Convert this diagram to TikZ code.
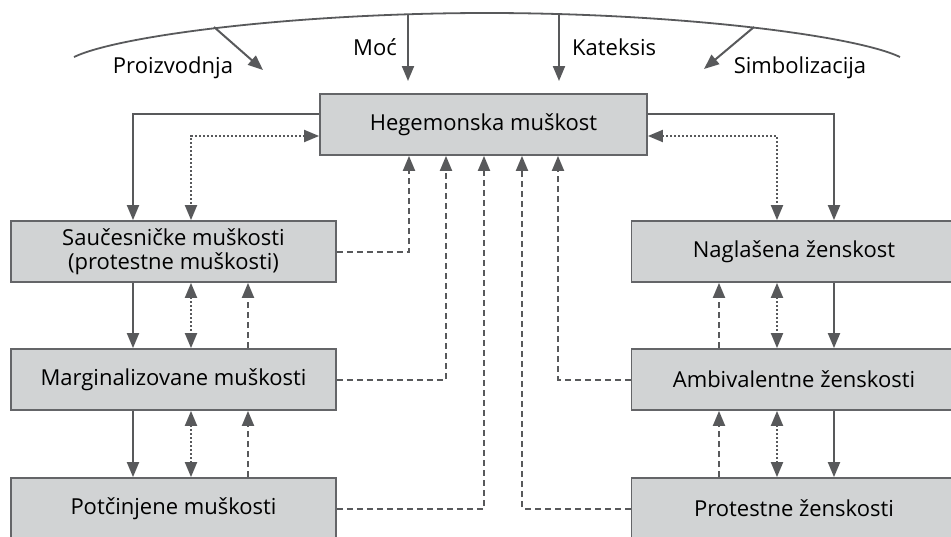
\documentclass[tikz,border=0pt]{standalone}
\usepackage{fontspec}
\setmainfont{Open Sans}
\usetikzlibrary{arrows.meta}
\definecolor{ln}{HTML}{58595B}
\definecolor{bx}{HTML}{D1D3D4}
\definecolor{bd}{HTML}{646568}
\tikzset{
  box/.style={draw=bd, fill=bx, line width=1.8pt, minimum width=325pt, minimum height=61pt,
    inner sep=0pt, align=center, font=\fontsize{22}{24}\selectfont},
  lbl/.style={inner sep=0pt, font=\fontsize{22}{24}\selectfont},
  solidc/.style={draw=ln, line width=2pt, -{Triangle[width=12pt,length=15pt]}},
  dashc/.style={draw=ln, line width=2pt, dash pattern=on 6pt off 4pt, -{Triangle[width=12pt,length=15pt]}},
  dotc/.style={draw=ln, line width=2pt, dash pattern=on 2pt off 2pt, {Triangle[width=12pt,length=15pt]}-{Triangle[width=12pt,length=15pt]}},
  arc/.style={draw=ln, line width=1.8pt}
}
\begin{document}
\begin{tikzpicture}[x=1pt, y=-1pt]
\useasboundingbox (0,0) rectangle (951,536);
\clip (0,0) rectangle (951,536);

% top arc
\draw[arc] (74,57) .. controls (120,35) and (300,13) .. (487,13) .. controls (674,13) and (854,35) .. (900,57);
\coordinate (pA) at (214,27);
\coordinate (pB) at (263,70);
\coordinate (mA) at (408,15);
\coordinate (mB) at (408,81);
\coordinate (kA) at (559,14);
\coordinate (kB) at (559,81);
\coordinate (sA) at (754,27);
\coordinate (sB) at (704,69);
\draw[solidc] (pA) -- (pB);
\draw[solidc] (mA) -- (mB);
\draw[solidc] (kA) -- (kB);
\draw[solidc] (sA) -- (sB);
\node[lbl] (proiz) at (173,68) {Proizvodnja};
\node[lbl, anchor=east] (moc) at (397,47) {Moć};
\node[lbl, anchor=west] (kat) at (572,47) {Kateksis};
\node[lbl] (simb) at (800,68) {Simbolizacija};

% boxes
\node[box, minimum width=327pt] (heg) at (483.5,124.5) {Hegemonska muškost};
\node[box] (sauc) at (173.5,251.5) {Saučesničke muškosti\\(protestne muškosti)};
\node[box] (marg) at (173.5,379.5) {Marginalizovane muškosti};
\node[box] (potc) at (173.5,508.5) {Potčinjene muškosti};
\node[box] (nagl) at (794,251.5) {Naglašena ženskost};
\node[box] (ambi) at (794,379.5) {Ambivalentne ženskosti};
\node[box] (prot) at (794,508.5) {Protestne ženskosti};

% left side
\draw[solidc] (heg.west |- 0,114) -| (sauc.north -| 133,0);
\draw[dotc] (heg.west |- 0,136) -| (sauc.north -| 191,0);
\draw[solidc] (sauc.south -| 133,0) -- (marg.north -| 133,0);
\draw[dotc] (sauc.south -| 191,0) -- (marg.north -| 191,0);
\draw[dashc] (marg.north -| 248,0) -- (sauc.south -| 248,0);
\draw[solidc] (marg.south -| 133,0) -- (potc.north -| 133,0);
\draw[dotc] (marg.south -| 191,0) -- (potc.north -| 191,0);
\draw[dashc] (potc.north -| 248,0) -- (marg.south -| 248,0);
\draw[dashc] (sauc.east) -| (heg.south -| 409,0);
\draw[dashc] (marg.east) -| (heg.south -| 446,0);
\draw[dashc] (potc.east) -| (heg.south -| 484,0);

% right side
\draw[solidc] (heg.east |- 0,114) -| (nagl.north -| 834,0);
\draw[dotc] (heg.east |- 0,136) -| (nagl.north -| 777,0);
\draw[dashc] (ambi.north -| 719,0) -- (nagl.south -| 719,0);
\draw[dotc] (nagl.south -| 777,0) -- (ambi.north -| 777,0);
\draw[solidc] (nagl.south -| 834,0) -- (ambi.north -| 834,0);
\draw[dashc] (prot.north -| 719,0) -- (ambi.south -| 719,0);
\draw[dotc] (ambi.south -| 777,0) -- (prot.north -| 777,0);
\draw[solidc] (ambi.south -| 834,0) -- (prot.north -| 834,0);
\draw[dashc] (ambi.west) -| (heg.south -| 558,0);
\draw[dashc] (prot.west) -| (heg.south -| 522,0);
\end{tikzpicture}
\end{document}
